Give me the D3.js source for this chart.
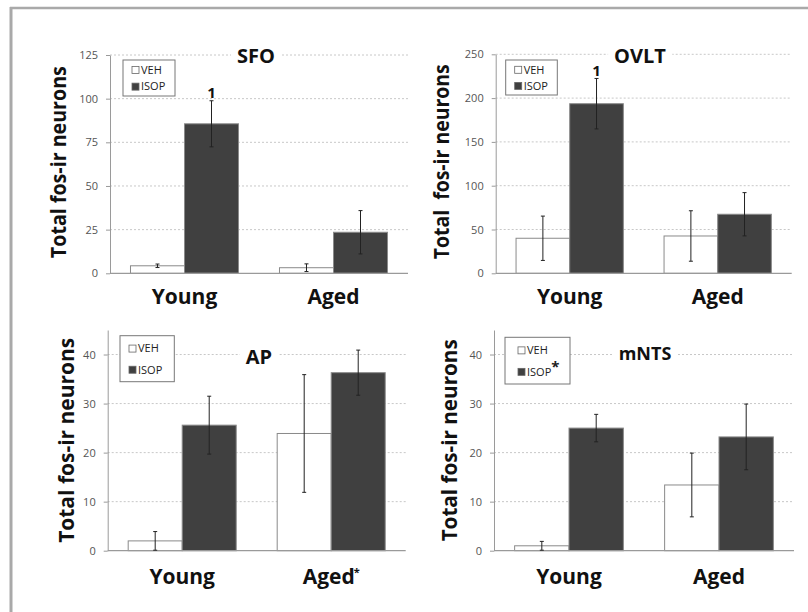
<!DOCTYPE html>
<html>
<head>
<meta charset="utf-8">
<script src="https://cdn.jsdelivr.net/npm/d3@7"></script>
<style>
  body { margin: 0; background: #fff; }
  svg { display: block; font-family: "Open Sans", sans-serif; }
</style>
</head>
<body>
<svg id="chart" width="808" height="612"></svg>
<script>
// data
const groups = ["Young", "Aged"];
const series = ["VEH", "ISOP"];

const sfoVeh = [4.3, 3.2];
const sfoVehErr = [1.0, 2.2];
const sfoIsop = [85.6, 23.5];
const sfoIsopErr = [13.2, 12.4];
const sfoTicks = [0, 25, 50, 75, 100, 125];

const ovltVeh = [40, 42.6];
const ovltVehErr = [25.3, 28.8];
const ovltIsop = [193.6, 67.4];
const ovltIsopErr = [28.8, 24.7];
const ovltTicks = [0, 50, 100, 150, 200, 250];

const apVeh = [2.0, 23.9];
const apVehErr = [1.9, 12.0];
const apIsop = [25.6, 36.3];
const apIsopErr = [5.9, 4.6];
const apTicks = [0, 10, 20, 30, 40];

const ntsVeh = [1.0, 13.4];
const ntsVehErr = [0.9, 6.5];
const ntsIsop = [25.0, 23.2];
const ntsIsopErr = [2.8, 6.7];
const ntsTicks = [0, 10, 20, 30, 40];

const svg = d3.select("#chart");

// outer frame (top and left edges only show)
svg.append("line").attr("x1", 10).attr("x2", 808).attr("y1", 8).attr("y2", 8)
  .attr("stroke", "#a9a9a9").attr("stroke-width", 2.5);
svg.append("line").attr("x1", 11).attr("x2", 11).attr("y1", 7).attr("y2", 612)
  .attr("stroke", "#a9a9a9").attr("stroke-width", 3);

const panels = [
  { title: "SFO", veh: sfoVeh, vehErr: sfoVehErr, isop: sfoIsop, isopErr: sfoIsopErr, ticks: sfoTicks,
    max: 125, x0: 110, x1: 408, yTop: 55, yBot: 273.3, titleX: 256, titleY: 56, titleSize: 20,
    legend: [123, 60, 52, 36], ylab: "Total fos-ir neurons", ylabX: 58, ylabLen: 192,
    mark: { text: "1", group: 0, y: 93 }, xlabY: 297 },
  { title: "OVLT", veh: ovltVeh, vehErr: ovltVehErr, isop: ovltIsop, isopErr: ovltIsopErr, ticks: ovltTicks,
    max: 250, x0: 495.7, x1: 791.7, yTop: 54.3, yBot: 273.3, titleX: 640, titleY: 56, titleSize: 20,
    legend: [505.7, 60, 51.6, 35], ylab: "Total  fos-ir neurons", ylabX: 441, ylabLen: 195,
    mark: { text: "1", group: 0, y: 71 }, xlabY: 297 },
  { title: "AP", veh: apVeh, vehErr: apVehErr, isop: apIsop, isopErr: apIsopErr, ticks: apTicks,
    max: 45, x0: 107.7, x1: 405.7, yTop: 330, yBot: 550.7, titleX: 259, titleY: 357, titleSize: 20,
    legend: [120, 335.7, 54.3, 46], ylab: "Total fos-ir neurons", ylabX: 66.5, ylabLen: 205,
    starGroup: 1, xlabY: 577 },
  { title: "mNTS", veh: ntsVeh, vehErr: ntsVehErr, isop: ntsIsop, isopErr: ntsIsopErr, ticks: ntsTicks,
    max: 45, x0: 494, x1: 794, yTop: 330, yBot: 550.7, titleX: 645, titleY: 354, titleSize: 18,
    legend: [505, 337.3, 65, 46.7], ylab: "Total fos-ir neurons", ylabX: 449, ylabLen: 202,
    starLegend: true, xlabY: 577 }
];

panels.forEach(p => {
  const g = svg.append("g");
  const y = d3.scaleLinear().domain([0, p.max]).range([p.yBot, p.yTop]);
  const x = d3.scaleBand().domain(groups).range([p.x0, p.x1]).paddingInner(0.275).paddingOuter(0.1375);
  const xs = d3.scaleBand().domain(series).range([0, x.bandwidth()]);

  // dashed gridlines
  g.selectAll(".grid").data(p.ticks.filter(t => t > 0)).join("line")
    .attr("x1", p.x0).attr("x2", p.x1)
    .attr("y1", d => y(d)).attr("y2", d => y(d))
    .attr("stroke", "#c8c8c8").attr("stroke-dasharray", "2,2");

  // y axis
  const yAxis = d3.axisLeft(y).tickValues(p.ticks).tickSize(4).tickPadding(8).tickSizeOuter(0);
  const ya = g.append("g").attr("transform", `translate(${p.x0},0)`).call(yAxis);
  ya.select(".domain").attr("stroke", "#9a9a9a");
  ya.selectAll(".tick line").attr("stroke", "#9a9a9a");
  ya.selectAll(".tick text").attr("fill", "#555").attr("font-size", 11)
    .attr("font-family", "'Open Sans', sans-serif");

  // bars
  const rows = [];
  groups.forEach((gr, i) => {
    rows.push({ group: gr, s: "VEH", v: p.veh[i], e: p.vehErr[i] });
    rows.push({ group: gr, s: "ISOP", v: p.isop[i], e: p.isopErr[i] });
  });
  g.selectAll(".bar").data(rows).join("rect")
    .attr("x", d => x(d.group) + xs(d.s))
    .attr("width", xs.bandwidth())
    .attr("y", d => y(d.v))
    .attr("height", d => y(0) - y(d.v))
    .attr("fill", d => d.s === "VEH" ? "#fff" : "#404040")
    .attr("stroke", "#8a8a8a").attr("stroke-width", 1);

  // x axis line
  g.append("line").attr("x1", p.x0).attr("x2", p.x1).attr("y1", y(0)).attr("y2", y(0))
    .attr("stroke", "#9a9a9a").attr("stroke-width", 1.2);

  // error bars
  const eb = g.selectAll(".err").data(rows).join("g")
    .attr("transform", d => `translate(${x(d.group) + xs(d.s) + xs.bandwidth() / 2},0)`);
  eb.append("line").attr("y1", d => y(d.v + d.e)).attr("y2", d => y(Math.max(0, d.v - d.e)))
    .attr("stroke", "#222");
  eb.append("line").attr("x1", -2).attr("x2", 2).attr("y1", d => y(d.v + d.e)).attr("y2", d => y(d.v + d.e))
    .attr("stroke", "#222");
  eb.append("line").attr("x1", -2).attr("x2", 2)
    .attr("y1", d => y(Math.max(0, d.v - d.e))).attr("y2", d => y(Math.max(0, d.v - d.e)))
    .attr("stroke", "#222");

  // title with white backing over the gridline
  const tt = g.append("text").attr("x", p.titleX).attr("y", p.titleY).attr("dy", "0.35em")
    .attr("text-anchor", "middle").attr("font-weight", "bold").attr("font-size", p.titleSize)
    .attr("fill", "#111").text(p.title);
  const bb = tt.node().getBBox();
  g.insert("rect", () => tt.node()).attr("x", bb.x - 6).attr("y", bb.y).attr("width", bb.width + 12)
    .attr("height", bb.height).attr("fill", "#fff");

  // legend
  const [lx, ly, lw, lh] = p.legend;
  const lg = g.append("g");
  lg.append("rect").attr("x", lx).attr("y", ly).attr("width", lw).attr("height", lh)
    .attr("fill", "#fff").attr("stroke", "#777");
  series.forEach((s, i) => {
    const cy = ly + lh * (i === 0 ? 0.28 : 0.74);
    const sx = lx + (lw > 60 ? 13 : 9);
    lg.append("rect").attr("x", sx).attr("y", cy - 3.5).attr("width", 7).attr("height", 7)
      .attr("fill", s === "VEH" ? "#fff" : "#404040").attr("stroke", "#666").attr("stroke-width", 0.8);
    const t = lg.append("text").attr("x", sx + 9).attr("y", cy).attr("dy", "0.35em")
      .attr("font-size", 11).attr("fill", "#222").text(s);
    if (p.starLegend && s === "ISOP") {
      t.append("tspan").attr("dy", "-0.25em").attr("font-size", 15).attr("font-weight", "bold").text("*");
    }
  });

  // significance mark above a bar
  if (p.mark) {
    g.append("text").attr("x", x(groups[p.mark.group]) + xs("ISOP") + xs.bandwidth() / 2)
      .attr("y", p.mark.y).attr("dy", "0.35em").attr("text-anchor", "middle")
      .attr("font-weight", "bold").attr("font-size", 15).attr("fill", "#111").text(p.mark.text);
  }

  // x category labels
  groups.forEach((gr, i) => {
    const t = g.append("text").attr("x", x(gr) + x.bandwidth() / 2).attr("y", p.xlabY).attr("dy", "0.35em")
      .attr("text-anchor", "middle").attr("font-weight", "bold").attr("font-size", 21).attr("fill", "#111")
      .text(gr);
    if (p.starGroup === i) {
      t.append("tspan").attr("dx", -1).attr("dy", "-0.75em").attr("font-size", 11).text("*");
    }
  });

  // y axis label
  const cy = (p.yTop + p.yBot) / 2 + (p.max === 45 ? 0 : -2);
  g.append("text").attr("transform", `translate(${p.ylabX},${cy}) rotate(-90)`)
    .attr("dy", "0.35em").attr("text-anchor", "middle").attr("font-weight", "bold")
    .attr("font-size", 22).attr("fill", "#111")
    .attr("textLength", p.ylabLen).attr("lengthAdjust", "spacingAndGlyphs")
    .style("white-space", "pre").text(p.ylab);
});
</script>
</body>
</html>
